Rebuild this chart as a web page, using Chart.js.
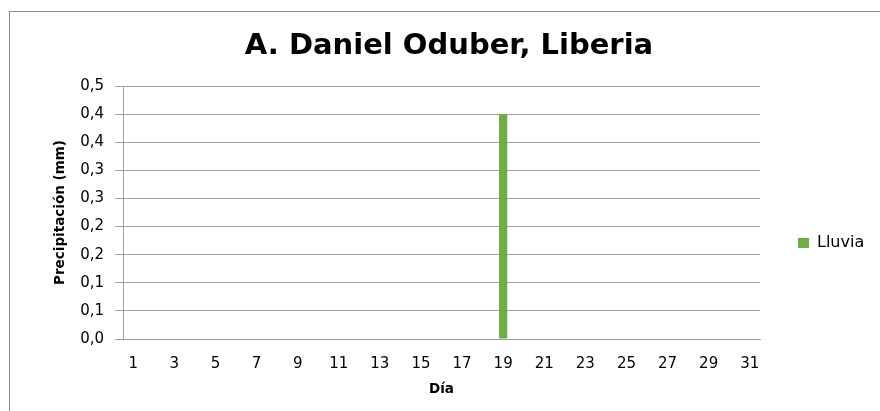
<!DOCTYPE html>
<html>
<head>
<meta charset="utf-8">
<script src="https://cdn.jsdelivr.net/npm/chart.js@4"></script>
<style>
  body { margin: 0; background: #fff; }
  #wrap { width: 880px; height: 411px; position: relative; }
</style>
</head>
<body>
<div id="wrap"><canvas id="myChart"></canvas></div>
<script>
// data
const dias = ['1','2','3','4','5','6','7','8','9','10','11','12','13','14','15','16',
  '17','18','19','20','21','22','23','24','25','26','27','28','29','30','31'];
const lluvia = [0,0,0,0,0,0,0,0,0,0,0,0,0,0,0,0,0,0,0.4,0,0,0,0,0,0,0,0,0,0,0,0];
const serieNombre = 'Lluvia';
const titulo = 'A. Daniel Oduber, Liberia';

const FONT = "'DejaVu Sans', sans-serif";
const GRIS = '#a0a0a0';

// outer border + title (title centred on the whole frame, not the plot)
const marco = {
  id: 'marco',
  beforeDraw(chart) {
    const c = chart.ctx;
    c.save();
    c.strokeStyle = '#8c8c8c';
    c.lineWidth = 1;
    c.strokeRect(9.5, 11.5, 1000, 1000);
    c.fillStyle = '#000';
    c.font = 'bold 29px ' + FONT;
    c.textAlign = 'center';
    c.textBaseline = 'middle';
    c.fillText(titulo, 449, 46);
    c.restore();
  }
};

// legend on the right
const leyenda = {
  id: 'leyenda',
  afterDraw(chart) {
    const c = chart.ctx;
    const ds = chart.data.datasets[0];
    c.save();
    c.fillStyle = ds.backgroundColor;
    c.fillRect(798, 238, 11, 10);
    c.fillStyle = '#000';
    c.font = '16px ' + FONT;
    c.textBaseline = 'middle';
    c.fillText(ds.label, 817, 243);
    c.restore();
  }
};

const ctx = document.querySelector('#myChart').getContext('2d');
const myChart = new Chart(ctx, {
  type: 'bar',
  data: {
    labels: dias,
    datasets: [{
      label: serieNombre,
      data: lluvia,
      backgroundColor: '#70ad47',
      borderWidth: 0,
      barPercentage: 0.4,
      categoryPercentage: 1
    }]
  },
  options: {
    responsive: true,
    maintainAspectRatio: false,
    animation: false,
    layout: { padding: { left: 46, right: 120, top: 86, bottom: 0 } },
    plugins: {
      legend: { display: false },
      tooltip: { enabled: false },
      title: { display: false }
    },
    scales: {
      x: {
        grid: { display: false },
        border: { display: true, color: GRIS },
        ticks: {
          autoSkip: false,
          maxRotation: 0,
          color: '#000',
          padding: 8,
          font: { family: FONT, size: 15 },
          callback: (v, i) => (i % 2 === 0 ? dias[i] : '')
        },
        title: {
          display: true,
          text: 'Día',
          color: '#000',
          font: { family: FONT, size: 13.5, weight: 'bold' },
          padding: { top: 0, bottom: 13 }
        },
        afterFit: s => { s.height = 72; }
      },
      y: {
        min: 0,
        max: 0.45,
        grid: { color: GRIS, drawTicks: true, tickLength: 8 },
        border: { display: true, color: GRIS },
        ticks: {
          stepSize: 0.05,
          color: '#000',
          padding: 11,
          font: { family: FONT, size: 15 },
          callback: v => (Math.round(v * 10) / 10).toFixed(1).replace('.', ',')
        },
        title: {
          display: true,
          text: 'Precipitación (mm)',
          color: '#000',
          font: { family: FONT, size: 13.5, weight: 'bold' },
          padding: { top: 6, bottom: 0 }
        },
        afterFit: s => { s.width = 77; }
      }
    }
  },
  plugins: [marco, leyenda]
});
</script>
</body>
</html>
